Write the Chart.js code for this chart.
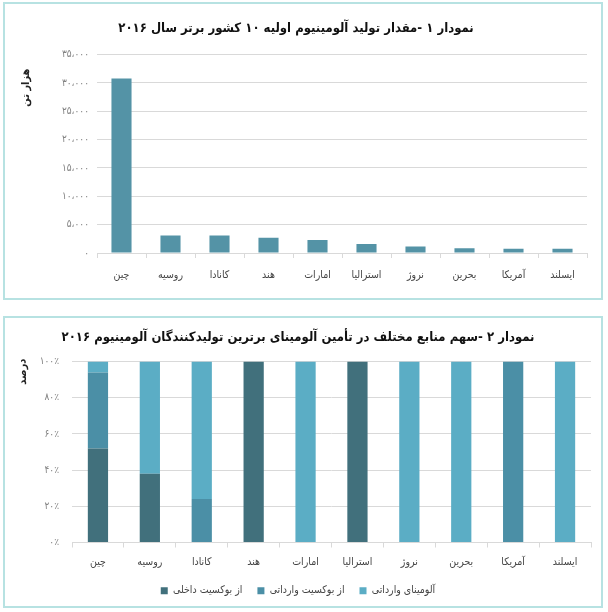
<!DOCTYPE html>
<html lang="fa">
<head>
<meta charset="utf-8">
<script src="https://cdn.jsdelivr.net/npm/chart.js@4"></script>
<style>
  body { margin: 0; background: #fff; width: 608px; height: 612px; position: relative; overflow: hidden; }
  .panel { position: absolute; left: 3px; width: 596px; border: 2px solid #b7e2e2; background: #fff; }
  #panel1 { top: 2px; height: 294px; }
  #panel2 { top: 316px; height: 288px; }
  canvas { display: block; }
</style>
</head>
<body>
<div class="panel" id="panel1"><canvas id="productionChart" width="596" height="294"></canvas></div>
<div class="panel" id="panel2"><canvas id="sourcesChart" width="596" height="288"></canvas></div>
<script>
const countries = ["چین", "روسیه", "کانادا", "هند", "امارات", "استرالیا", "نروژ", "بحرین", "آمریکا", "ایسلند"];

// thousand tonnes, 2016
const production = [30800, 3100, 3100, 2700, 2300, 1600, 1150, 850, 750, 750];

// percent shares of alumina supply
const domesticBauxite = [52, 38, 0, 100, 0, 100, 0, 0, 0, 0];
const importedBauxite = [42, 0, 24, 0, 0, 0, 0, 0, 100, 0];
const importedAlumina = [6, 62, 76, 0, 100, 0, 100, 100, 0, 100];

const seriesNames = ["از بوکسیت داخلی", "از بوکسیت وارداتی", "آلومینای وارداتی"];
const seriesColors = ["#41707c", "#4b8fa6", "#5badc5"];

const title1 = "نمودار ۱ -مقدار تولید آلومینیوم اولیه ۱۰ کشور برتر سال ۲۰۱۶";
const title2 = "نمودار ۲ -سهم منابع مختلف در تأمین آلومینای برترین تولیدکنندگان آلومینیوم ۲۰۱۶";
const yTitle1 = "هزار تن";
const yTitle2 = "درصد";

const FONT = "'DejaVu Sans Condensed', 'DejaVu Sans', sans-serif";
const faDigits = "۰۱۲۳۴۵۶۷۸۹";

function toFa(str) {
  return String(str).replace(/\d/g, (d) => faDigits[d]);
}

function thousands(v) {
  return toFa(v.toLocaleString("en-US")).replace(/,/g, "،");
}

// vertical axis caption, placed near the top of the plot like the original
function axisCaption(text, x, y) {
  return {
    id: "axisCaption",
    afterDraw(chart) {
      const ctx = chart.ctx;
      ctx.save();
      ctx.translate(x, chart.chartArea.top + y);
      ctx.rotate(-Math.PI / 2);
      ctx.font = "bold 11px " + FONT;
      ctx.fillStyle = "#222";
      ctx.textAlign = "center";
      ctx.textBaseline = "middle";
      ctx.fillText(text, 0, 0);
      ctx.restore();
    }
  };
}

const gridColor = "#d9d9d9";

new Chart(document.getElementById("productionChart"), {
  type: "bar",
  data: {
    labels: countries,
    datasets: [{
      data: production,
      backgroundColor: "#5493a6",
      categoryPercentage: 1,
      barPercentage: 0.41
    }]
  },
  options: {
    responsive: false,
    animation: false,
    layout: { padding: { left: 0, right: 14, bottom: 0 } },
    plugins: {
      legend: { display: false },
      tooltip: { enabled: false },
      title: {
        display: true,
        text: title1,
        color: "#111",
        font: { family: FONT, size: 13, weight: "bold" },
        padding: { top: 17, bottom: 18 }
      }
    },
    scales: {
      x: {
        grid: { drawOnChartArea: false, color: gridColor, tickLength: 5, offset: true },
        border: { color: gridColor },
        ticks: { color: "#444", font: { family: FONT, size: 10.5 }, padding: 11, maxRotation: 0 },
        afterFit: (s) => { s.height = 45; }
      },
      y: {
        min: 0,
        max: 35000,
        ticks: { stepSize: 5000, color: "#808080", font: { family: FONT, size: 10 }, padding: 8, callback: (v) => thousands(v) },
        grid: { color: gridColor, drawTicks: false },
        border: { display: false },
        afterFit: (s) => { s.width = 92; }
      }
    }
  },
  plugins: [axisCaption(yTitle1, 21, 33)]
});

new Chart(document.getElementById("sourcesChart"), {
  type: "bar",
  data: {
    labels: countries,
    datasets: [domesticBauxite, importedBauxite, importedAlumina].map((vals, i) => ({
      label: seriesNames[i],
      data: vals,
      backgroundColor: seriesColors[i],
      categoryPercentage: 1,
      barPercentage: 0.39
    }))
  },
  options: {
    responsive: false,
    animation: false,
    layout: { padding: { left: 0, right: 10, bottom: 0 } },
    plugins: {
      tooltip: { enabled: false },
      title: {
        display: true,
        text: title2,
        color: "#111",
        font: { family: FONT, size: 13, weight: "bold" },
        padding: { top: 12, bottom: 16 }
      },
      legend: {
        position: "bottom",
        labels: {
          color: "#444",
          font: { family: FONT, size: 10.5 },
          boxWidth: 7,
          boxHeight: 7,
          padding: 15
        }
      }
    },
    scales: {
      x: {
        stacked: true,
        grid: { drawOnChartArea: false, color: gridColor, tickLength: 5, offset: true },
        border: { color: gridColor },
        ticks: { color: "#444", font: { family: FONT, size: 10.5 }, padding: 8, maxRotation: 0 },
        afterFit: (s) => { s.height = 28; }
      },
      y: {
        stacked: true,
        min: 0,
        max: 100,
        ticks: { stepSize: 20, color: "#808080", font: { family: FONT, size: 10 }, padding: 13, callback: (v) => toFa(v) + "٪" },
        grid: { color: gridColor, drawTicks: false },
        border: { display: false },
        afterFit: (s) => { s.width = 67; }
      }
    }
  },
  plugins: [axisCaption(yTitle2, 18, 10)]
});
</script>
</body>
</html>
